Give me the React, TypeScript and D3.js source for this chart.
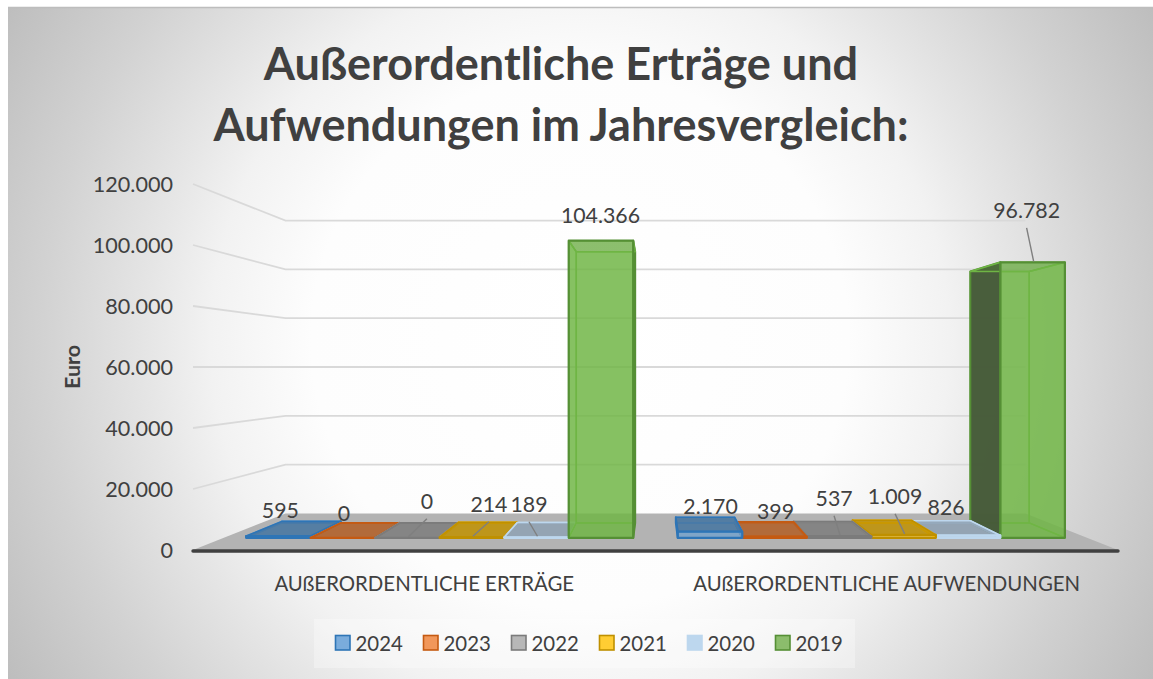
import React from "react";
import * as d3 from "d3";

const categories = ["AUßERORDENTLICHE ERTRÄGE", "AUßERORDENTLICHE AUFWENDUNGEN"];
const years = ["2024", "2023", "2022", "2021", "2020", "2019"];
const values2024 = [595, 2170];
const values2023 = [0, 399];
const values2022 = [0, 537];
const values2021 = [214, 1009];
const values2020 = [189, 826];
const values2019 = [104366, 96782];
const seriesValues = [values2024, values2023, values2022, values2021, values2020, values2019];
const yTicks = [0, 20000, 40000, 60000, 80000, 100000, 120000];
const titleLines = ["Außerordentliche Erträge und", "Aufwendungen im Jahresvergleich:"];

const fillColors = ["#5B9BD5", "#ED7D31", "#A5A5A5", "#FFC000", "#BDD7EE", "#6FB545"];
const strokeColors = ["#2E75B6", "#C55A11", "#7B7B7B", "#BF9000", "#BDD7EE", "#558F35"];
const swatchFills = ["#7AACDC", "#F1975A", "#B7B7B7", "#FFCD33", "#BDD7EE", "#8CBD6C"];

// hand placed data labels, relative to the top of the bar: [dx, dy, leader]
const labelOffsets: [number, number, boolean][][] = [
  [[2, -18, false], [0.5, -18, false]],
  [[1, -17, false], [1, -18, false]],
  [[19.5, -29, true], [-5, -30.5, true]],
  [[17, -25.5, true], [-8.5, -31, true]],
  [[-7.5, -25.5, true], [-22, -20.5, false]],
  [[-0.5, -18, false], [-6, -44.5, true]],
];

const fmt = (v: number) => d3.format(",")(v).replace(/,/g, ".");

const W = 1153;
const H = 679;
const floorLeft = 193;
const floorRight = 1118;
const centerX = (floorLeft + floorRight) / 2;
const vanishY = 367;
const depthBack = 0.8;
const barFront = 0.9333;
const barBack = 0.852;
const font = "Lato, Carlito, sans-serif";
const textColor = "#404040";

const y = d3.scaleLinear().domain([0, 120000]).range([550, 184]);
const xCat = d3.scaleBand().domain(categories).range([floorLeft, floorRight]);
const xSeries = d3.scaleBand().domain(years).range([0, xCat.bandwidth()]).paddingInner(0).paddingOuter(0.345);

const px = (x: number, s: number) => centerX + (x - centerX) * s;
const py = (v: number, s: number) => vanishY + (y(v) - vanishY) * s;
const pathOf = d3.line<[number, number]>();
const poly = (pts: [number, number][]) => pathOf(pts) + "Z";
const shade = (c: string, k: number) => {
  const r = d3.rgb(c);
  return d3.rgb(r.r * k, r.g * k, r.b * k).formatHex();
};

const bars = categories
  .flatMap((cat, ci) =>
    years.map((yr, si) => {
      const x0 = (xCat(cat) as number) + (xSeries(yr) as number);
      return { ci, si, x0, x1: x0 + xSeries.bandwidth(), value: seriesValues[si][ci] };
    })
  )
  .sort(
    (a, b) =>
      Math.abs((b.x0 + b.x1) / 2 - centerX) - Math.abs((a.x0 + a.x1) / 2 - centerX)
  );

const Bar = ({ d }: { d: (typeof bars)[number] }) => {
  const { x0, x1, value, si } = d;
  const fill = fillColors[si];
  const stroke = strokeColors[si];
  const inner = fill;
  const corner = (x: number, v: number, s: number): [number, number] => [px(x, s), py(v, s)];
  const fbl = corner(x0, 0, barFront);
  const fbr = corner(x1, 0, barFront);
  const ftl = corner(x0, value, barFront);
  const ftr = corner(x1, value, barFront);
  const bbl = corner(x0, 0, barBack);
  const bbr = corner(x1, 0, barBack);
  const btl = corner(x0, value, barBack);
  const btr = corner(x1, value, barBack);
  const leftOuter = (x0 + x1) / 2 > centerX;
  const topOuter = py(value, barFront) > vanishY;
  const dark = d3.interpolateRgb(fill, "#333333")(0.72);

  return (
    <g strokeLinejoin="round">
      <path d={poly([fbl, fbr, bbr, bbl])} fill={fill} fillOpacity={topOuter ? 0 : 0.6} stroke={inner} strokeWidth={1.2} />
      <path d={poly([bbl, bbr, btr, btl])} fill={fill} fillOpacity={topOuter ? 0.1 : 0.6} stroke={inner} strokeWidth={1.5} />
      <path
        d={poly([fbl, bbl, btl, ftl])}
        fill={leftOuter ? dark : fill}
        fillOpacity={leftOuter ? 0.95 : 0.6}
        stroke={leftOuter ? stroke : inner}
        strokeWidth={leftOuter ? 2 : 1.5}
      />
      <path
        d={poly([fbr, bbr, btr, ftr])}
        fill={leftOuter ? fill : dark}
        fillOpacity={leftOuter ? 0.6 : 0.95}
        stroke={leftOuter ? inner : stroke}
        strokeWidth={leftOuter ? 1.5 : 2}
      />
      <path
        d={poly([ftl, ftr, btr, btl])}
        fill={topOuter ? shade(fill, 0.75) : shade(fill, 0.7)}
        fillOpacity={topOuter ? 0.85 : 0.4}
        stroke={topOuter ? stroke : inner}
        strokeWidth={topOuter ? 1.6 : 1.5}
      />
      <path
        d={poly([fbl, fbr, ftr, ftl])}
        fill={fill}
        fillOpacity={0.6}
        stroke={stroke}
        strokeWidth={2.2}
      />
    </g>
  );
};

const App = () => {
  const cornerBack = px(floorLeft, depthBack);
  const cornerBackR = px(floorRight, depthBack);

  return (
    <svg
      width={W}
      height={H}
      viewBox={`0 0 ${W} ${H}`}
      style={{ position: "absolute", left: 0, top: 0, fontFamily: font }}
    >
      <defs>
        <radialGradient id="bg" gradientUnits="userSpaceOnUse" cx={580} cy={340} r={672}>
          <stop offset="0" stopColor="#ffffff" />
          <stop offset="0.4" stopColor="#fdfdfd" />
          <stop offset="0.55" stopColor="#f2f2f2" />
          <stop offset="0.64" stopColor="#e6e6e6" />
          <stop offset="0.8" stopColor="#d2d2d2" />
          <stop offset="1" stopColor="#bcbcbc" />
        </radialGradient>
      </defs>
      <rect width={W} height={H} fill="#ffffff" />
      <rect x={8} y={7} width={W - 8} height={H - 7} fill="url(#bg)" />
      <line x1={8} x2={W} y1={7.5} y2={7.5} stroke="#bdbdbd" strokeWidth={1.6} />

      {/* title */}
      {titleLines.map((t, i) => (
        <text
          key={t}
          x={561}
          y={80 + i * 61}
          textAnchor="middle"
          fontSize={45}
          fontWeight={700}
          fill={textColor}
        >
          {t}
        </text>
      ))}

      {/* walls */}
      {yTicks.slice(1).map((t) => (
        <path
          key={t}
          d={pathOf([
            [floorLeft, y(t)],
            [cornerBack, py(t, depthBack)],
            [cornerBackR, py(t, depthBack)],
          ]) as string}
          fill="none"
          stroke="#d9d9d9"
          strokeWidth={1.8}
        />
      ))}

      {/* floor */}
      <path
        d={poly([
          [floorLeft, y(0)],
          [floorRight, y(0)],
          [cornerBackR, py(0, depthBack)],
          [cornerBack, py(0, depthBack)],
        ])}
        fill="#b3b3b3"
      />
      <line
        x1={floorLeft}
        x2={floorRight}
        y1={y(0) + 1}
        y2={y(0) + 1}
        stroke="#404040"
        strokeWidth={3.4}
        strokeLinecap="round"
      />

      {bars.map((d) => (
        <Bar key={`${d.ci}-${d.si}`} d={d} />
      ))}

      {/* data labels */}
      {bars.map((d) => {
        const [dx, dy, leader] = labelOffsets[d.si][d.ci];
        const cx = px((d.x0 + d.x1) / 2, barFront);
        const top = py(d.value, barFront);
        return (
          <g key={`${d.ci}-${d.si}`}>
            {leader && (
              <line
                x1={cx + dx}
                y1={top + dy + 10}
                x2={cx + 1}
                y2={top - 1}
                stroke="#7f7f7f"
                strokeWidth={1.4}
              />
            )}
            <text x={cx + dx} y={top + dy} textAnchor="middle" fontSize={21.3} fill={textColor}>
              {fmt(d.value)}
            </text>
          </g>
        );
      })}

      {/* value axis */}
      {yTicks.map((t) => (
        <text key={t} x={173} y={y(t) + 8} textAnchor="end" fontSize={21.6} fill={textColor}>
          {fmt(t)}
        </text>
      ))}
      <text
        transform={`translate(80,${vanishY}) rotate(-90)`}
        textAnchor="middle"
        fontSize={21.5}
        fontWeight={700}
        fill={textColor}
      >
        Euro
      </text>

      {/* category axis */}
      {categories.map((c) => (
        <text
          key={c}
          x={(xCat(c) as number) + xCat.bandwidth() / 2}
          y={591}
          textAnchor="middle"
          fontSize={20.4}
          fill={textColor}
        >
          {c}
        </text>
      ))}

      {/* legend */}
      <rect x={314} y={619} width={541} height={49} fill="#ffffff" fillOpacity={0.3} />
      {years.map((yr, i) => {
        const lx = 335 + i * 88;
        return (
          <g key={yr}>
            <rect
              x={lx + 0.5}
              y={635.5}
              width={14.5}
              height={14.5}
              fill={swatchFills[i]}
              stroke={strokeColors[i]}
              strokeWidth={1.6}
            />
            <text x={lx + 20.5} y={650.5} fontSize={20.4} fill={textColor}>
              {yr}
            </text>
          </g>
        );
      })}
    </svg>
  );
};

export default App;
